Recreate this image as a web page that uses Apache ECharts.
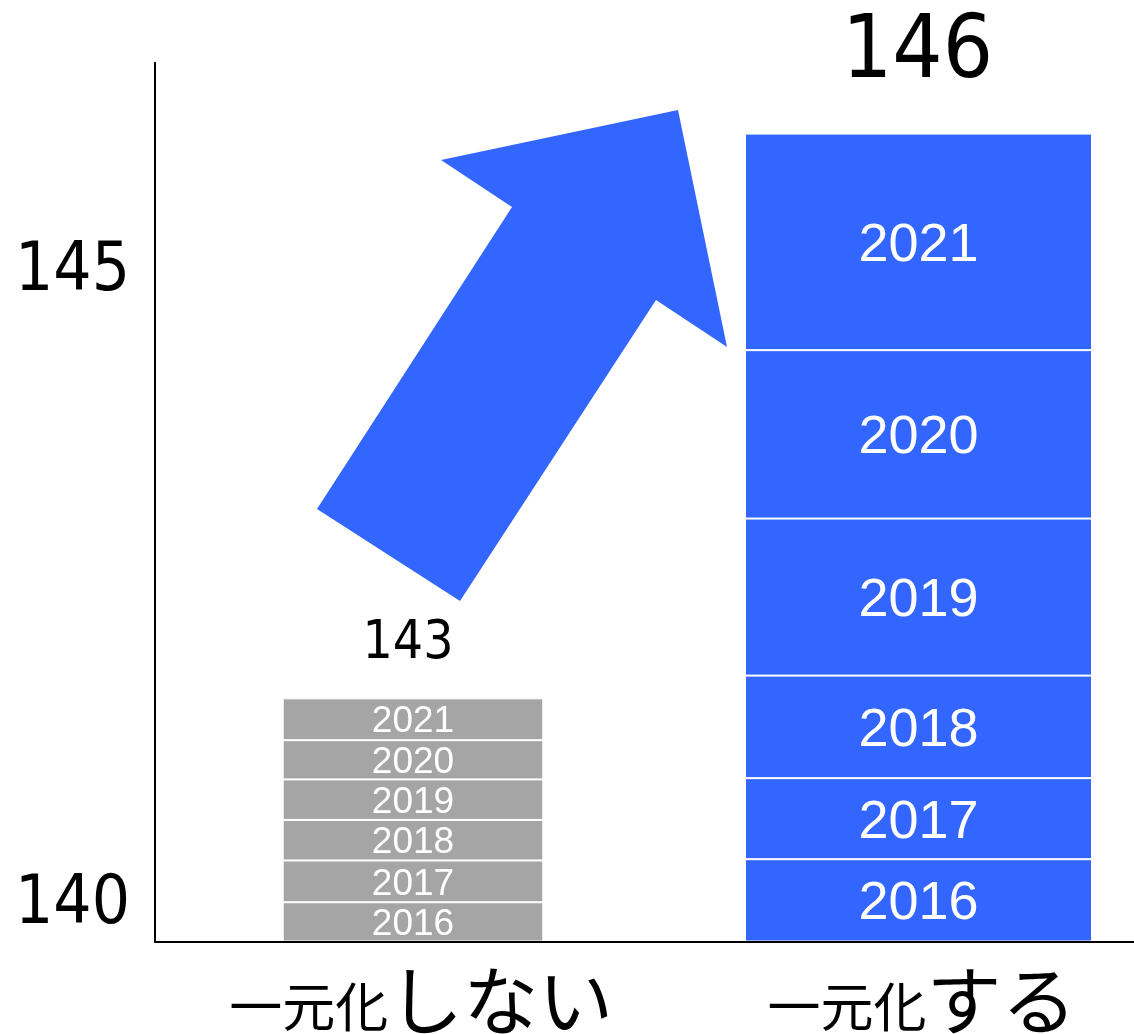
<!DOCTYPE html>
<html><head><meta charset="utf-8">
<script src="https://cdn.jsdelivr.net/npm/echarts@6/dist/echarts.min.js"></script>
<style>html,body{margin:0;padding:0;background:#fff}#c{width:1134px;height:1034px}</style>
</head><body><div id="c"></div>
<script>
// ---- data ----
const categories = ['一元化しない', '一元化する'];
const years = ['2016', '2017', '2018', '2019', '2020', '2021'];
const greySegments = [0.31, 0.33, 0.32, 0.32, 0.31, 0.33];
const blueSegments = [0.65, 0.64, 0.81, 1.24, 1.33, 1.71];
const totals = [143, 146];
const yTickValues = [140, 145];
const yRange = [139.668, 146.608];

// ---- styles ----
const GREY = '#A5A5A5', BLUE = '#3366FF';
const NUM_FONT = "'DejaVu Sans Condensed', 'DejaVu Sans', sans-serif";
const BAR_FONT = "'Liberation Sans', Arial, sans-serif";
const JP_FONT = "'Noto Sans CJK JP', sans-serif";
const GAP = '-126.88%';

const groups = [
  { id: 'g', idx: 0, segs: greySegments, color: GREY, width: 260.6, labelSize: 37, labelOffset: [0, 3], totalSize: 53, totalDist: 28, totalOffset: [-5, 0] },
  { id: 'b', idx: 1, segs: blueSegments, color: BLUE, width: 347, labelSize: 54, labelOffset: [0, 4], totalSize: 88, totalDist: 35, totalOffset: [-1, 0] }
];
function only(i, v) { return categories.map((_, k) => (k === i ? v : '-')); }

const series = [];
groups.forEach(g => {
  series.push({
    type: 'bar', stack: g.id, stackStrategy: 'all', barWidth: g.width, barGap: GAP,
    data: only(g.idx, yRange[0]), silent: true,
    itemStyle: { color: 'rgba(0,0,0,0)', borderWidth: 0 }, label: { show: false }
  });
  g.segs.forEach((v, j) => {
    series.push({
      name: years[j], type: 'bar', stack: g.id, stackStrategy: 'all', barWidth: g.width, barGap: GAP,
      data: only(g.idx, v),
      itemStyle: { color: g.color, borderColor: '#ffffff', borderWidth: 1 },
      label: { show: true, position: 'inside', formatter: '{a}', color: '#ffffff', offset: g.labelOffset,
               fontSize: g.labelSize, fontFamily: BAR_FONT }
    });
  });
  series.push({
    type: 'bar', stack: g.id, stackStrategy: 'all', barWidth: g.width, barGap: GAP,
    data: only(g.idx, 0), silent: true,
    itemStyle: { color: 'rgba(0,0,0,0)', borderWidth: 0 },
    label: { show: true, position: 'top', distance: g.totalDist, offset: g.totalOffset,
             formatter: () => String(totals[g.idx]), color: '#000000',
             fontSize: g.totalSize, lineHeight: g.totalSize, fontFamily: NUM_FONT }
  });
});

const chart = echarts.init(document.getElementById('c'), null, { renderer: 'canvas' });
chart.setOption({
  animation: false,
  backgroundColor: '#ffffff',
  grid: { left: 155, right: -85.7, top: 62.7, bottom: 92.5, containLabel: false, outerBoundsMode: 'none' },
  xAxis: {
    type: 'category', data: categories, z: 10,
    axisLine: { show: true, lineStyle: { color: '#000000', width: 2 } },
    axisTick: { show: false },
    splitLine: { show: false },
    axisLabel: {
      interval: 0, margin: 21, color: '#000000',
      formatter: (v, i) => '{s|' + v.slice(0, 3) + '}{' + (i === 0 ? 'l' : 'l2') + '|' + v.slice(3) + '}',
      rich: {
        s: { fontSize: 53, lineHeight: 53, fontFamily: JP_FONT, color: '#000000', verticalAlign: 'bottom', padding: [0, 0, 4, 0] },
        l: { fontSize: 75, lineHeight: 75, fontFamily: JP_FONT, color: '#000000', verticalAlign: 'bottom' },
        l2: { fontSize: 75, lineHeight: 75, fontFamily: JP_FONT, color: '#000000', verticalAlign: 'bottom', padding: [0, 63, 0, 0] }
      }
    }
  },
  yAxis: {
    type: 'value', min: yRange[0], max: yRange[1], z: 10,
    axisLine: { show: true, lineStyle: { color: '#000000', width: 2 } },
    axisTick: { show: false },
    splitLine: { show: false },
    axisLabel: {
      customValues: yTickValues, formatter: v => '{t|' + Math.round(v) + '}',
      margin: 25,
      rich: { t: { color: '#000000', fontSize: 67, lineHeight: 67, fontFamily: NUM_FONT, padding: [12, 0, 0, 0] } }
    }
  },
  graphic: [{
    type: 'polygon', z: 5, silent: true,
    shape: { points: [[317, 509], [460, 601], [656, 300], [727, 347], [678, 110], [441, 160], [512, 207]] },
    style: { fill: BLUE }
  }],
  series: series
});
</script>
</body></html>
